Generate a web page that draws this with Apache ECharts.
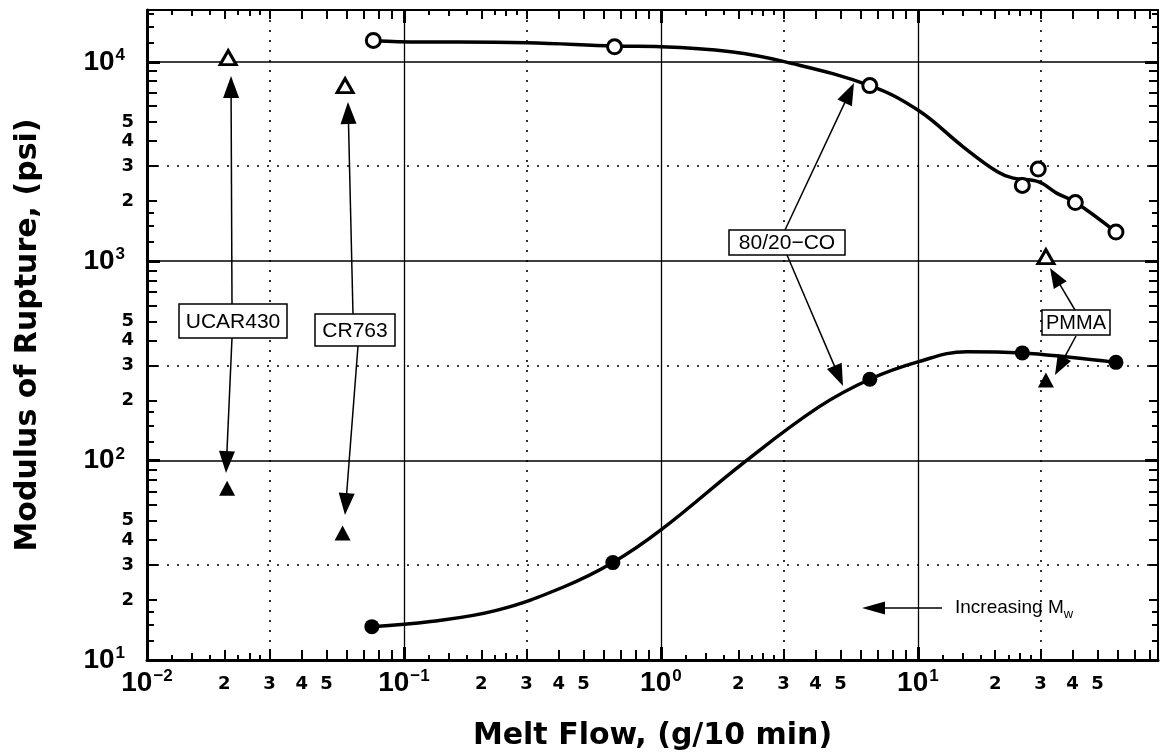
<!DOCTYPE html>
<html>
<head>
<meta charset="utf-8">
<title>Modulus of Rupture vs Melt Flow</title>
<script src="https://cdn.jsdelivr.net/npm/echarts@6/dist/echarts.min.js"></script>
<style>
  html, body { margin: 0; padding: 0; background: #fff; }
  #chart { width: 1160px; height: 756px; }
</style>
</head>
<body>
<div id="chart"></div>
<script>
// ---- measured data: melt flow (g/10 min) vs modulus of rupture (psi) ----
// 80/20-CO blend, open circles (upper) and filled circles (lower)
const coOpenX   = [0.076, 0.66, 6.5, 25.5, 29.4, 41, 59];
const coOpenY   = [12800, 11900, 7600, 2400, 2900, 1970, 1400];
const coFilledX = [0.075, 0.65, 6.5, 25.5, 59];
const coFilledY = [14.7, 30.8, 256, 347, 311];
// reference resins (UCAR430, CR763, PMMA): open and filled triangles
const refOpenX   = [0.0207, 0.059, 31.5];
const refOpenY   = [10500, 7600, 1055];
const refFilledX = [0.0205, 0.0577, 31.5];
const refFilledY = [72.6, 43.4, 254];
// hand-fitted trend curves through the 80/20-CO points
const upperCurveX = [0.076, 0.095, 0.30, 0.66, 1.0, 1.87, 3.05, 6.5, 10, 15.0, 20.4, 23.5, 29.4, 34.8, 41, 59];
const upperCurveY = [12800, 12620, 12470, 12000, 11910, 11240, 10000, 7600, 5730, 3750, 2810, 2610, 2505, 2190, 1975, 1400];
const lowerCurveX = [0.075, 0.127, 0.231, 0.42, 0.65, 1.0, 2.12, 4.12, 6.5, 10, 15.5, 25.5, 39, 59];
const lowerCurveY = [14.7, 15.6, 17.8, 23.3, 30.8, 44.9, 98.6, 186, 256, 313, 352, 347, 330, 311];

// ---- axis ticks ----
const xDecades = [0.01, 0.1, 1, 10];
const yDecades = [10, 100, 1000, 10000];
const threeMantissa = [3];
const intMantissas = [2, 4, 5, 6, 7, 8, 9];
const halfMantissas = [1.5, 2.5];
const quarterMantissas = [1.25, 1.75, 2.25, 2.75];
const yFracMantissas = [1.25, 1.5, 1.75];
const labelMantissas = [2, 3, 4, 5];

const X_MIN = 0.01, X_MAX = 86;
const Y_MIN = 10, Y_MAX = 18200;

const LABEL_FONT = 'Liberation Sans';
const TITLE_FONT = 'DejaVu Sans';
const NOTE_FONT = 'Liberation Sans';

function scaled(decades, mantissas) {
  const out = [];
  decades.forEach(d => mantissas.forEach(m => out.push(+(d * m).toPrecision(6))));
  return out;
}
const zip = (xs, ys) => xs.map((x, i) => [x, ys[i]]);

function decadeLabel(v) {
  const e = Math.round(Math.log10(v));
  return '{b|10}{s|' + (e < 0 ? '\u2212' + (-e) : String(e)) + '}';
}
function mantissaLabel(v) {
  const p = Math.floor(Math.log10(v) + 1e-9);
  return String(Math.round(v / Math.pow(10, p)));
}
const decadeRich = {
  b: { fontFamily: LABEL_FONT, fontWeight: 'bold', fontSize: 28, lineHeight: 30, color: '#000' },
  s: { fontFamily: LABEL_FONT, fontWeight: 'bold', fontSize: 17, lineHeight: 16, verticalAlign: 'top', color: '#000', padding: [0, 0, 0, 1] }
};

function axis(dim, position, ticks, len, width, opts) {
  opts = opts || {};
  return {
    type: 'log', logBase: 10, gridIndex: 0, position: position,
    min: dim === 'x' ? X_MIN : Y_MIN,
    max: dim === 'x' ? X_MAX : Y_MAX,
    silent: true,
    axisLine: opts.line ? { show: true, onZero: false, lineStyle: { color: '#000', width: opts.line } } : { show: false },
    axisTick: { show: true, inside: true, length: len, customValues: ticks, lineStyle: { color: '#000', width: width } },
    axisLabel: opts.label || { show: false },
    splitLine: opts.split || { show: false },
    minorTick: { show: false },
    minorSplitLine: { show: false },
    name: opts.name || '',
    nameLocation: 'middle',
    nameGap: opts.nameGap || 0,
    nameMoveOverlap: false,
    nameTextStyle: { fontFamily: TITLE_FONT, fontWeight: 'bold', fontSize: 30, color: '#000' }
  };
}

const solidGrid = (w) => ({ show: true, lineStyle: { color: '#000', width: w, type: 'solid' } });
const dottedGrid = { show: true, lineStyle: { color: '#000', width: 1.6, type: [2, 8] } };

const xLabelMinor = {
  show: true, customValues: scaled(xDecades, labelMantissas), formatter: mantissaLabel,
  fontFamily: TITLE_FONT, fontWeight: 'bold', fontSize: 18, color: '#000',
  verticalAlign: 'middle', margin: 24
};
const yLabelMinor = {
  show: true, customValues: scaled(yDecades, labelMantissas), formatter: mantissaLabel,
  fontFamily: TITLE_FONT, fontWeight: 'bold', fontSize: 18, color: '#000',
  verticalAlign: 'middle', margin: 13
};

const xAxes = [
  axis('x', 'bottom', xDecades, 13, 3, {
    line: 3, split: solidGrid(1.3),
    label: { show: true, customValues: xDecades, formatter: decadeLabel, rich: decadeRich, verticalAlign: 'middle', margin: 23 },
    name: 'Melt Flow, (g/10 min)', nameGap: 61
  }),
  axis('x', 'bottom', scaled(xDecades, threeMantissa), 11, 2, { split: dottedGrid }),
  axis('x', 'bottom', scaled(xDecades, intMantissas), 10, 2, { label: xLabelMinor }),
  axis('x', 'bottom', scaled(xDecades, halfMantissas), 7, 2),
  axis('x', 'bottom', scaled(xDecades, quarterMantissas), 5, 2),
  axis('x', 'top', xDecades, 13, 3, { line: 2 }),
  axis('x', 'top', scaled(xDecades, threeMantissa.concat(intMantissas)), 9, 2),
  axis('x', 'top', scaled(xDecades, halfMantissas), 6, 2),
  axis('x', 'top', scaled(xDecades, quarterMantissas), 5, 2)
];

const yAxes = [
  axis('y', 'left', yDecades, 13, 3, {
    line: 3, split: solidGrid(1.6),
    label: { show: true, customValues: yDecades, formatter: decadeLabel, rich: decadeRich, margin: 22 },
    name: 'Modulus of Rupture, (psi)', nameGap: 104
  }),
  axis('y', 'left', scaled(yDecades, threeMantissa), 11, 2, { split: dottedGrid }),
  axis('y', 'left', scaled(yDecades, intMantissas), 10, 2, { label: yLabelMinor }),
  axis('y', 'left', scaled(yDecades, yFracMantissas), 7, 2),
  axis('y', 'right', yDecades, 13, 3, { line: 2 }),
  axis('y', 'right', scaled(yDecades, threeMantissa.concat(intMantissas)), 9, 2),
  axis('y', 'right', scaled(yDecades, yFracMantissas), 6, 2)
];

const option = {
  animation: false,
  backgroundColor: '#fff',
  grid: { left: 147, right: 2, top: 10, bottom: 96, containLabel: false, outerBoundsMode: 'none' },
  xAxis: xAxes,
  yAxis: yAxes,
  series: [
    {
      name: '80/20-CO upper trend', type: 'line', xAxisIndex: 0, yAxisIndex: 0,
      data: zip(upperCurveX, upperCurveY), smooth: 0.4, showSymbol: false, symbol: 'none',
      lineStyle: { color: '#000', width: 3.5 }, z: 3, silent: true
    },
    {
      name: '80/20-CO lower trend', type: 'line', xAxisIndex: 0, yAxisIndex: 0,
      data: zip(lowerCurveX, lowerCurveY), smooth: 0.4, showSymbol: false, symbol: 'none',
      lineStyle: { color: '#000', width: 3.5 }, z: 3, silent: true
    },
    {
      name: '80/20-CO (open)', type: 'scatter', xAxisIndex: 0, yAxisIndex: 0,
      data: zip(coOpenX, coOpenY), symbol: 'circle', symbolSize: 14,
      itemStyle: { color: '#fff', borderColor: '#000', borderWidth: 3, opacity: 1 }, z: 4, silent: true
    },
    {
      name: '80/20-CO (filled)', type: 'scatter', xAxisIndex: 0, yAxisIndex: 0,
      data: zip(coFilledX, coFilledY), symbol: 'circle', symbolSize: 15,
      itemStyle: { color: '#000', opacity: 1 }, z: 4, silent: true
    },
    {
      name: 'reference (open)', type: 'scatter', xAxisIndex: 0, yAxisIndex: 0,
      data: zip(refOpenX, refOpenY), symbol: 'triangle', symbolSize: [16, 14],
      itemStyle: { color: '#fff', borderColor: '#000', borderWidth: 3, opacity: 1 }, z: 4, silent: true
    },
    {
      name: 'reference (filled)', type: 'scatter', xAxisIndex: 0, yAxisIndex: 0,
      data: zip(refFilledX, refFilledY), symbol: 'triangle', symbolSize: [16, 15],
      itemStyle: { color: '#000', opacity: 1 }, z: 4, silent: true
    }
  ]
};

// ---- annotation callouts (screen space) ----
function arrow(x1, y1, x2, y2, headLen, headW) {
  headLen = headLen || 22; headW = headW || 16;
  const dx = x2 - x1, dy = y2 - y1, L = Math.hypot(dx, dy);
  const ux = dx / L, uy = dy / L, px = -uy, py = ux;
  const bx = x2 - ux * headLen, by = y2 - uy * headLen;
  return [
    { type: 'line', z: 100, silent: true,
      shape: { x1: x1, y1: y1, x2: bx + ux * 2, y2: by + uy * 2 },
      style: { stroke: '#000', lineWidth: 1.5 } },
    { type: 'polygon', z: 100, silent: true,
      shape: { points: [[x2, y2], [bx + px * headW / 2, by + py * headW / 2], [bx - px * headW / 2, by - py * headW / 2]] },
      style: { fill: '#000' } }
  ];
}
function box(cx, cy, w, h, text, fontSize) {
  return [
    { type: 'rect', z: 100, silent: true,
      shape: { x: cx - w / 2, y: cy - h / 2, width: w, height: h },
      style: { fill: '#fff', stroke: '#000', lineWidth: 1.5 } },
    { type: 'text', z: 101, silent: true, x: cx, y: cy + 1,
      style: { text: text, fill: '#000', font: fontSize + 'px "' + NOTE_FONT + '"', align: 'center', verticalAlign: 'middle' } }
  ];
}

const graphics = [].concat(
  arrow(232, 304, 231, 76), arrow(232, 338, 226, 473),
  arrow(353, 314, 348, 102), arrow(358, 346, 345, 515),
  arrow(785, 230, 854, 83), arrow(787, 255, 843, 386),
  arrow(1075, 310, 1050, 268, 20, 15), arrow(1076, 336, 1055, 375, 20, 15),
  arrow(942, 608, 862, 608, 23, 13),
  box(233, 321, 108, 34, 'UCAR430', 21),
  box(355, 330, 80, 32, 'CR763', 21),
  box(787, 242.5, 116, 25, '80/20\u2212CO', 21),
  box(1076, 322.5, 68, 25, 'PMMA', 20),
  [{
    type: 'text', z: 101, silent: true, x: 955, y: 608,
    style: {
      text: '{a|Increasing M}{w|w}', verticalAlign: 'middle', align: 'left',
      rich: {
        a: { fontFamily: NOTE_FONT, fontSize: 19, lineHeight: 26, fill: '#000', verticalAlign: 'middle' },
        w: { fontFamily: NOTE_FONT, fontSize: 13, lineHeight: 13, fill: '#000', verticalAlign: 'bottom' }
      }
    }
  }]
);
option.graphic = { elements: graphics };

const chart = echarts.init(document.getElementById('chart'), null, { renderer: 'canvas' });
chart.setOption(option);
</script>
</body>
</html>
